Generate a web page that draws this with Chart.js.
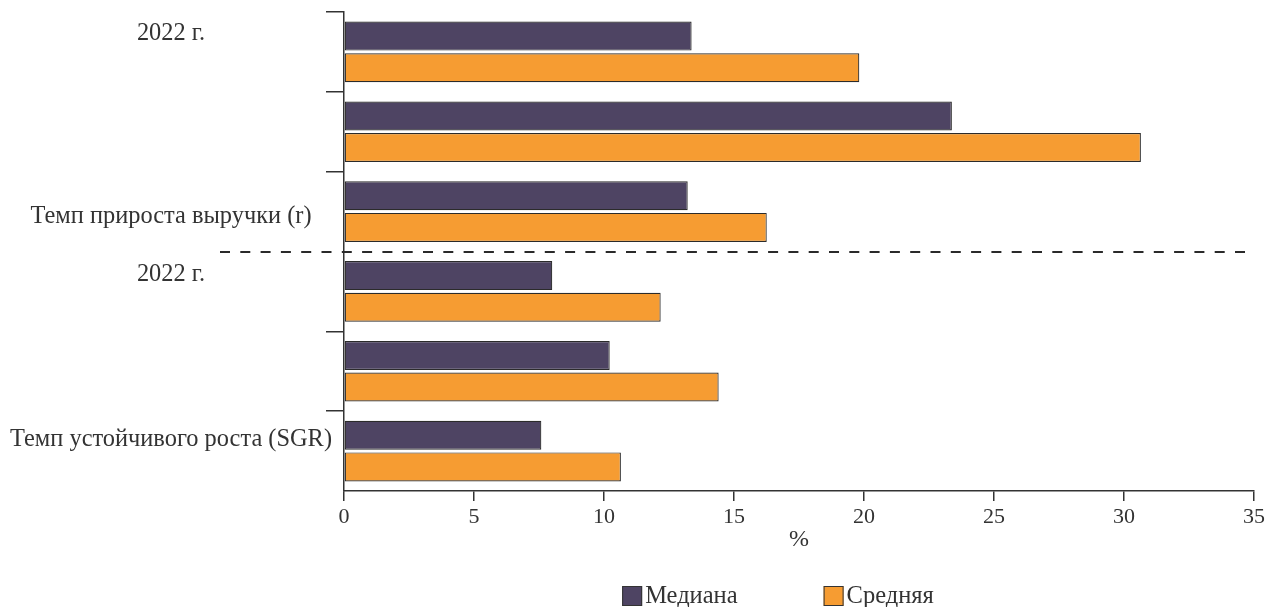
<!DOCTYPE html>
<html>
<head>
<meta charset="utf-8">
<script src="https://cdn.jsdelivr.net/npm/chart.js@4/dist/chart.umd.min.js"></script>
<style>
  html, body { margin: 0; padding: 0; background: #fff; }
  #wrap { width: 1268px; height: 607px; }
</style>
</head>
<body>
<div id="wrap"><canvas id="chart"></canvas></div>
<script>
// категории (сверху вниз)
const categories = ['2022 г.', '', 'Темп прироста выручки (r)', '2022 г.', '', 'Темп устойчивого роста (SGR)'];
const seriesNames = ['Медиана', 'Средняя'];
const medianValues = [13.37, 23.38, 13.22, 8.01, 10.22, 7.59];
const meanValues = [19.82, 30.65, 16.26, 12.18, 14.41, 10.65];
const xTicks = [0, 5, 10, 15, 20, 25, 30, 35];
const axisTitle = '%';

const FONT = 'Liberation Serif';
const TEXT = '#333';
const colors = ['#4E4463', '#F69C32'];

// вертикальный сдвиг подписей категорий (px)
const labelShift = [-18, 0, 5, -17, 0, -11];

// пунктир между двумя блоками + легенда
const extras = {
  id: 'extras',
  afterDraw(chart) {
    const ctx = chart.ctx;
    const y = chart.scales.y;
    const area = chart.chartArea;
    const yy = Math.round((y.getPixelForValue(2) + y.getPixelForValue(3)) / 2);
    ctx.save();
    ctx.strokeStyle = '#2a2a2a';
    ctx.lineWidth = 2;
    ctx.setLineDash([10, 10.3]);
    ctx.beginPath();
    ctx.moveTo(220, yy);
    ctx.lineTo(area.right, yy);
    ctx.stroke();
    ctx.setLineDash([]);

    // легенда
    ctx.font = '24.5px "' + FONT + '"';
    ctx.textBaseline = 'middle';
    const box = 20, gapText = 3, gapItem = 86;
    const widths = chart.data.datasets.map(d => box + gapText + ctx.measureText(d.label).width);
    const total = widths.reduce((a, b) => a + b, 0) + gapItem * (widths.length - 1);
    let x = 778 - total / 2;
    const cy = 596;
    chart.data.datasets.forEach((d, i) => {
      ctx.fillStyle = d.backgroundColor;
      ctx.fillRect(x, cy - box / 2, box, box);
      ctx.strokeStyle = '#333';
      ctx.lineWidth = 1;
      ctx.strokeRect(x + 0.5, cy - box / 2 + 0.5, box - 1, box - 1);
      ctx.fillStyle = TEXT;
      ctx.textAlign = 'left';
      ctx.fillText(d.label, x + box + gapText, cy + 1);
      x += widths[i] + gapItem;
    });
    ctx.restore();
  }
};

new Chart(document.getElementById('chart'), {
  type: 'bar',
  data: {
    labels: categories,
    datasets: [
      { label: seriesNames[0], data: medianValues, backgroundColor: colors[0] },
      { label: seriesNames[1], data: meanValues, backgroundColor: colors[1] }
    ]
  },
  options: {
    indexAxis: 'y',
    responsive: true,
    maintainAspectRatio: false,
    animation: false,
    layout: { padding: { top: 12, right: 14, bottom: 53, left: 0 } },
    datasets: {
      bar: {
        categoryPercentage: 0.792,
        barPercentage: 0.918,
        borderColor: '#2b2b2b',
        borderWidth: 1.2,
        borderSkipped: false
      }
    },
    plugins: {
      legend: { display: false },
      tooltip: { enabled: false }
    },
    scales: {
      x: {
        min: 0,
        max: 35,
        afterBuildTicks: s => { s.ticks = xTicks.map(v => ({ value: v })); },
        grid: { drawOnChartArea: false, tickLength: 10, color: '#333', lineWidth: 1.5 },
        border: { color: '#333', width: 1.5 },
        ticks: { color: TEXT, padding: 3, font: { family: FONT, size: 22 } },
        title: { display: true, text: axisTitle, color: TEXT, padding: 0, font: { family: FONT, size: 24 } },
        afterFit: s => { s.height = 63; }
      },
      y: {
        grid: {
          drawOnChartArea: false,
          tickLength: 18,
          lineWidth: 1.5,
          // нет засечки у нижней границы и под пунктиром
          color: c => (c.index == null || c.index === 3) ? 'rgba(0,0,0,0)' : '#333'
        },
        border: { color: '#333', width: 1.5 },
        ticks: {
          autoSkip: false,
          crossAlign: 'center',
          padding: -6,
          color: TEXT,
          font: c => ({ family: FONT, size: 24.4, lineHeight: Math.max(2 * Math.abs(labelShift[c.index] || 0), 1) + 'px' }),
          callback: (v, i) => {
            const s = labelShift[i];
            if (s < 0) return [categories[i], ''];
            if (s > 0) return ['', categories[i]];
            return categories[i];
          }
        },
        afterFit: s => { s.width = 344; s.paddingTop = 0; s.paddingBottom = 0; }
      }
    }
  },
  plugins: [extras]
});
</script>
</body>
</html>
